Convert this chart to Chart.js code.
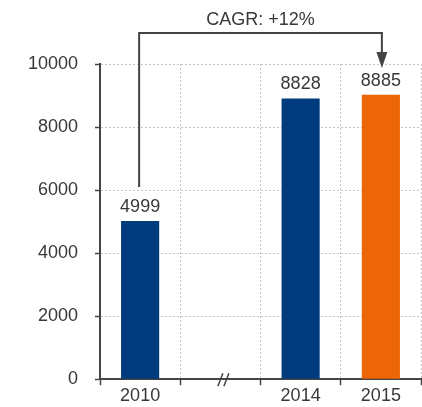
<!DOCTYPE html>
<html>
<head>
<meta charset="utf-8">
<script src="https://cdn.jsdelivr.net/npm/chart.js@4"></script>
<style>
html,body{margin:0;padding:0;background:#fff;}
#wrap{width:422px;height:407px;}
</style>
</head>
<body>
<div id="wrap"><canvas id="c" width="422" height="407"></canvas></div>
<script>
const categories = ['2010', '', '2014', '2015'];
const barValues = [5020, null, 8907, 9023];      // bar heights as drawn
const valueLabels = ['4999', '', '8828', '8885']; // printed values
const barColors = ['#003C7D', '#003C7D', '#003C7D', '#EC6608'];
const yTicks = [0, 2000, 4000, 6000, 8000, 10000];
const cagrText = 'CAGR: +12%';
const breakIndex = 1;

const FONT = '"Liberation Sans", Arial, sans-serif';
const TEXT = '#383838';
const LINE = '#444444';

const overlay = {
  id: 'overlay',
  afterDatasetsDraw(chart) {
    const ctx = chart.ctx;
    const meta = chart.getDatasetMeta(0);
    const x = chart.scales.x, y = chart.scales.y;
    ctx.save();
    ctx.font = '18px ' + FONT;
    ctx.fillStyle = TEXT;
    ctx.textAlign = 'center';
    ctx.textBaseline = 'alphabetic';
    meta.data.forEach((bar, i) => {
      if (barValues[i] == null) return;
      ctx.fillText(valueLabels[i], bar.x, bar.y - 9);
    });
    // CAGR bracket
    const b0 = meta.data[0], b3 = meta.data[3];
    const topY = 33;
    ctx.strokeStyle = LINE;
    ctx.lineWidth = 2;
    ctx.beginPath();
    ctx.moveTo(b0.x - 1, b0.y - 34);
    ctx.lineTo(b0.x - 1, topY);
    ctx.lineTo(b3.x + 1, topY);
    ctx.lineTo(b3.x + 1, 54);
    ctx.stroke();
    ctx.fillStyle = LINE;
    ctx.beginPath();
    ctx.moveTo(b3.x + 1 - 5.5, 52);
    ctx.lineTo(b3.x + 1 + 5.5, 52);
    ctx.lineTo(b3.x + 1, 68);
    ctx.closePath();
    ctx.fill();
    ctx.fillStyle = TEXT;
    ctx.fillText(cagrText, (b0.x + b3.x) / 2, 25);
    // axis break //
    const bx = x.getPixelForValue(breakIndex) + 3;
    const by = y.getPixelForValue(0);
    ctx.strokeStyle = LINE;
    ctx.lineWidth = 1.5;
    [-3, 3].forEach(d => {
      ctx.beginPath();
      ctx.moveTo(bx + d - 2.5, by + 7);
      ctx.lineTo(bx + d + 2.5, by - 6);
      ctx.stroke();
    });
    ctx.restore();
  }
};

new Chart(document.getElementById('c'), {
  type: 'bar',
  data: {
    labels: categories,
    datasets: [{
      data: barValues,
      backgroundColor: barColors,
      borderWidth: 0,
      barPercentage: 0.475,
      categoryPercentage: 1
    }]
  },
  options: {
    responsive: false,
    devicePixelRatio: 1,
    animation: false,
    layout: { padding: { top: 64, right: 1, bottom: 0, left: 0 } },
    plugins: { legend: { display: false }, tooltip: { enabled: false } },
    scales: {
      x: {
        afterFit(s) { s.height = 26; },
        grid: { offset: true, color: '#c4c4c4', tickColor: LINE, tickLength: 6, tickWidth: 1.5 },
        border: { display: true, color: LINE, width: 2, dash: [2, 2] },
        ticks: { color: TEXT, font: { family: FONT, size: 18 }, padding: 0, maxRotation: 0 }
      },
      y: {
        min: 0, max: 10000,
        afterFit(s) { s.width = 100; },
        afterBuildTicks(s) { s.ticks = yTicks.map(v => ({ value: v })); },
        grid: { color: '#c4c4c4', tickColor: LINE, tickLength: 5, tickWidth: 1.5 },
        border: { display: true, color: LINE, width: 2, dash: [2, 2] },
        ticks: { color: TEXT, font: { family: FONT, size: 18 }, padding: 17, callback: v => String(v) }
      }
    }
  },
  plugins: [overlay]
});
</script>
</body>
</html>
